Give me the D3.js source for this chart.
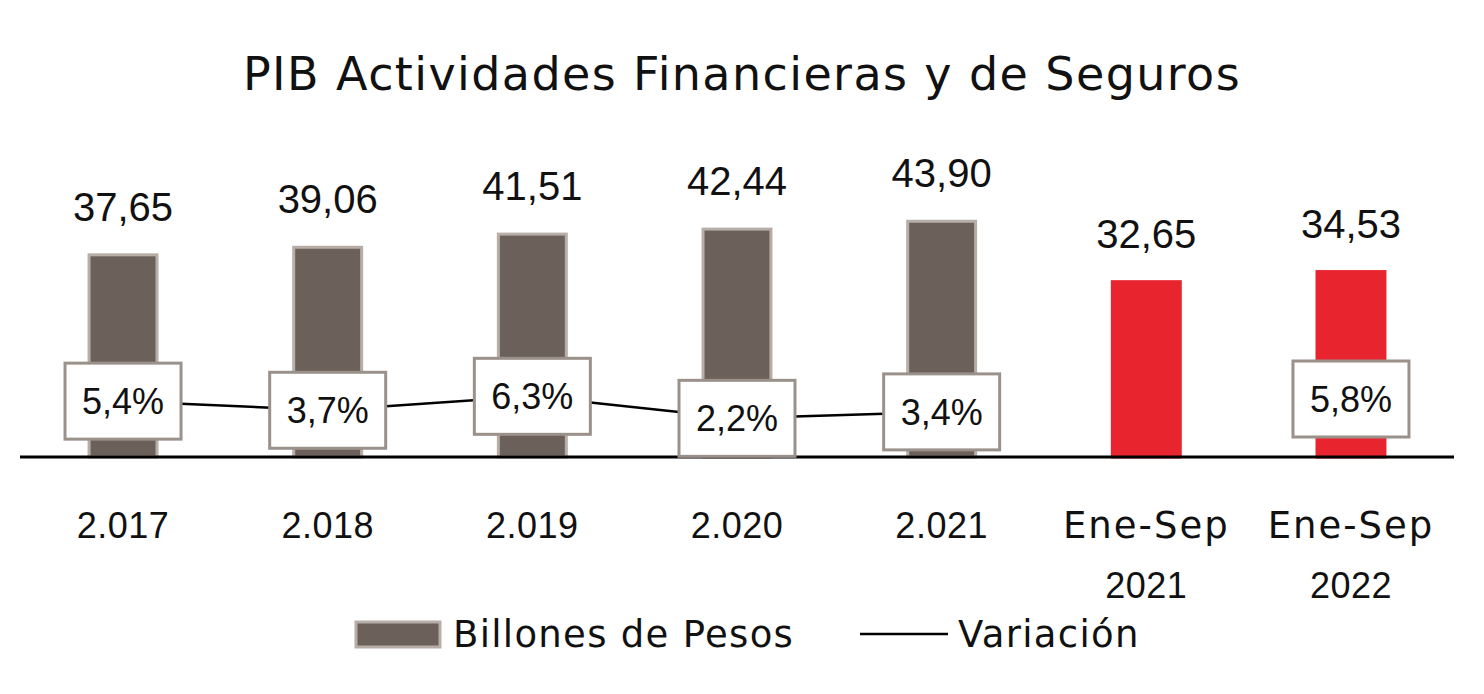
<!DOCTYPE html>
<html>
<head>
<meta charset="utf-8">
<script src="https://cdn.jsdelivr.net/npm/d3@7"></script>
<style>
  body { margin: 0; background: #fff; }
</style>
</head>
<body>
<script>
// data
const categories = ["2.017", "2.018", "2.019", "2.020", "2.021", "Ene-Sep\n2021", "Ene-Sep\n2022"];
const pesos = [37.65, 39.06, 41.51, 42.44, 43.90, 32.65, 34.53];
const pesosLabels = ["37,65", "39,06", "41,51", "42,44", "43,90", "32,65", "34,53"];
const variacion = [5.4, 3.7, 6.3, 2.2, 3.4, null, 5.8];
const variacionLabels = ["5,4%", "3,7%", "6,3%", "2,2%", "3,4%", null, "5,8%"];
const highlighted = [false, false, false, false, false, true, true];

const width = 1484, height = 694;
const baseY = 457;

const grayFill = "#6b605a", grayStroke = "#b8aea8", red = "#e8252f";
const numFont = "'Liberation Sans', Arial, sans-serif";
const textFont = "'DejaVu Sans', sans-serif";

const svg = d3.select("body")
  .append("svg")
  .attr("width", width)
  .attr("height", height);

// scales
const x = d3.scaleBand()
  .domain(categories)
  .range([20.7, 1453.3])
  .paddingInner(0.668)
  .paddingOuter(0.334);

const y = d3.scaleLinear()
  .domain([0, 85])
  .range([baseY, baseY - 85 * 5.37]);

// secondary axis for the variation line
const y2 = d3.scaleLinear()
  .domain([-5, 80])
  .range([baseY, baseY - 85 * 5.37]);

// title
svg.append("text")
  .attr("x", width / 2)
  .attr("y", 90)
  .attr("text-anchor", "middle")
  .style("font-family", textFont)
  .style("font-size", "46px")
  .style("letter-spacing", "1.4px")
  .style("fill", "#111")
  .text("PIB Actividades Financieras y de Seguros");

// bars
svg.selectAll(".bar")
  .data(pesos)
  .join("rect")
    .attr("class", "bar")
    .attr("x", (d, i) => x(categories[i]))
    .attr("y", d => y(d))
    .attr("width", x.bandwidth())
    .attr("height", d => y(0) - y(d))
    .attr("fill", (d, i) => highlighted[i] ? red : grayFill)
    .attr("stroke", (d, i) => highlighted[i] ? red : grayStroke)
    .attr("stroke-width", 3);

// bar value labels
svg.selectAll(".val")
  .data(pesos)
  .join("text")
    .attr("class", "val")
    .attr("x", (d, i) => x(categories[i]) + x.bandwidth() / 2)
    .attr("y", d => y(d) - 34)
    .attr("text-anchor", "middle")
    .style("font-family", numFont)
    .style("font-size", "40px")
    .style("fill", "#111")
    .text((d, i) => pesosLabels[i]);

// baseline
svg.append("line")
  .attr("x1", 20).attr("x2", 1454)
  .attr("y1", baseY).attr("y2", baseY)
  .attr("stroke", "#000")
  .attr("stroke-width", 3);

// variation line (only the annual points)
const linePts = variacion.map((v, i) => ({v, c: categories[i]})).filter((d, i) => d.v != null && i < 5);
const line = d3.line()
  .x(d => x(d.c) + x.bandwidth() / 2)
  .y(d => y2(d.v));

svg.append("path")
  .datum(linePts)
  .attr("d", line)
  .attr("fill", "none")
  .attr("stroke", "#000")
  .attr("stroke-width", 2.5);

// variation label boxes
const boxW = 116, boxH = 76;
const boxes = svg.selectAll(".vbox")
  .data(variacion.map((v, i) => ({v, c: categories[i], lab: variacionLabels[i]})).filter(d => d.v != null))
  .join("g")
    .attr("class", "vbox")
    .attr("transform", d => `translate(${x(d.c) + x.bandwidth() / 2}, ${y2(d.v)})`);

boxes.append("rect")
  .attr("x", -boxW / 2)
  .attr("y", -boxH / 2)
  .attr("width", boxW)
  .attr("height", boxH)
  .attr("fill", "#fff")
  .attr("stroke", "#9b918b")
  .attr("stroke-width", 3);

boxes.append("text")
  .attr("y", 13)
  .attr("text-anchor", "middle")
  .style("font-family", numFont)
  .style("font-size", "36px")
  .style("fill", "#111")
  .text(d => d.lab);

// category labels (word lines a bit wider, like the original font)
const cat = svg.selectAll(".cat")
  .data(categories)
  .join("text")
    .attr("class", "cat")
    .attr("x", d => x(d) + x.bandwidth() / 2)
    .attr("y", 538)
    .attr("text-anchor", "middle")
    .style("fill", "#111");

cat.selectAll("tspan")
  .data(d => d.split("\n"))
  .join("tspan")
    .attr("x", function() { return d3.select(this.parentNode).attr("x"); })
    .attr("dy", (d, i) => i === 0 ? 0 : 60)
    .style("font-family", d => /[A-Za-z]/.test(d) ? textFont : numFont)
    .style("font-size", d => /[A-Za-z]/.test(d) ? "37px" : "36px")
    .style("letter-spacing", d => /[A-Za-z]/.test(d) ? "2px" : "0.5px")
    .text(d => d);

// legend
const legend = svg.append("g");
legend.append("rect")
  .attr("x", 356).attr("y", 622)
  .attr("width", 84).attr("height", 25)
  .attr("fill", grayFill)
  .attr("stroke", grayStroke)
  .attr("stroke-width", 3);
legend.append("text")
  .attr("x", 453).attr("y", 647)
  .style("font-family", textFont)
  .style("font-size", "37px")
  .style("letter-spacing", "1.3px")
  .style("fill", "#111")
  .text("Billones de Pesos");
legend.append("line")
  .attr("x1", 860).attr("x2", 948)
  .attr("y1", 634).attr("y2", 634)
  .attr("stroke", "#000")
  .attr("stroke-width", 2.5);
legend.append("text")
  .attr("x", 958).attr("y", 647)
  .style("font-family", textFont)
  .style("font-size", "37px")
  .style("letter-spacing", "1.3px")
  .style("fill", "#111")
  .text("Variación");
</script>
</body>
</html>
